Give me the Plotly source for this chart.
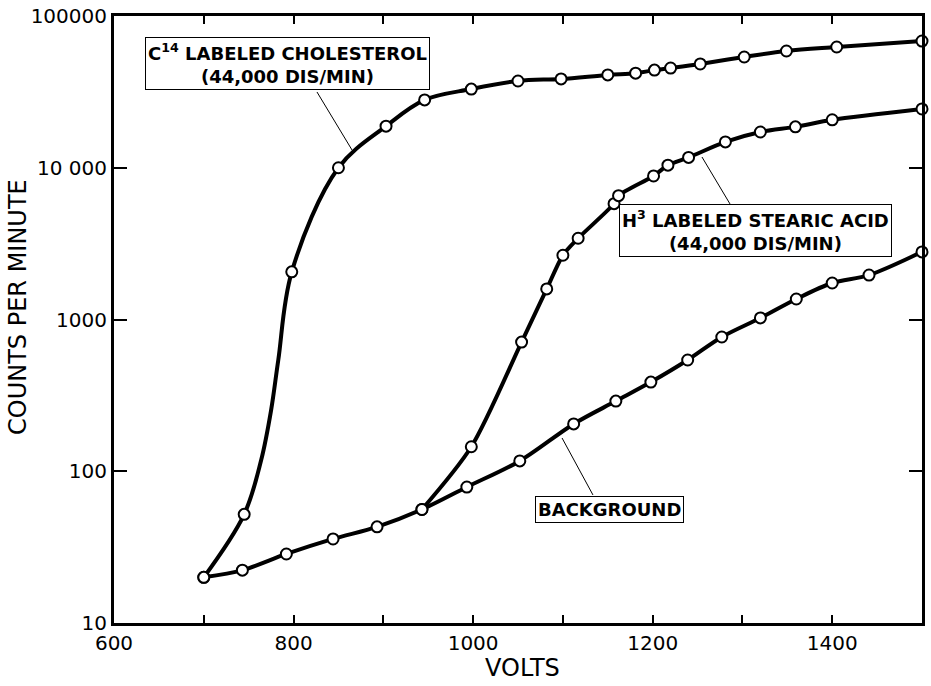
import plotly.graph_objects as go

# ---- data ----
# plotted points (open circles)
volts_chol = [700, 745, 798, 850, 903, 946, 998, 1050, 1098, 1150, 1181, 1202, 1220, 1253, 1302, 1349, 1405, 1500]
cpm_chol = [20, 52, 2060, 10000, 18800, 28000, 33000, 37300, 38500, 40900, 42000, 44000, 45400, 48300, 53700, 58800, 62500, 68400]

volts_stear = [943, 998, 1054, 1082, 1100, 1117, 1157, 1162, 1201, 1217, 1240, 1281, 1320, 1359, 1400, 1500]
cpm_stear = [56, 145, 710, 1590, 2650, 3430, 5800, 6550, 8830, 10400, 11700, 14800, 17200, 18600, 20700, 24400]

volts_bg = [700, 743, 792, 844, 893, 943, 993, 1052, 1112, 1159, 1198, 1239, 1277, 1320, 1360, 1400, 1441, 1500]
cpm_bg = [20, 22.3, 28.5, 35.8, 43, 56, 78.7, 117, 205, 290, 387, 541, 767, 1024, 1365, 1740, 1963, 2790]

# extra readings taken along the drawn cholesterol curve in its steep rise (no markers there)
volts_chol_rise = [764, 775, 783]
cpm_chol_rise = [119, 253, 541]

x_tickvals = [600, 700, 800, 900, 1000, 1100, 1200, 1300, 1400, 1500]
x_ticktext = ["600", "", "800", "", "1000", "", "1200", "", "1400", ""]
y_tickvals = [10, 100, 1000, 10000, 100000]
y_ticktext = ["10", "100", "1000", "10 000", "100000"]

FONT = "DejaVu Sans"

fig = go.Figure()

# cholesterol curve: plotted points plus the readings along the steep rise
chol_curve = sorted(zip(volts_chol + volts_chol_rise, cpm_chol + cpm_chol_rise))
curves = [
    ([v for v, _ in chol_curve], [c for _, c in chol_curve], 1.0),
    (volts_stear, cpm_stear, 0.8),
    (volts_bg, cpm_bg, 0.9),
]
for xs, ys, sm in curves:
    fig.add_trace(go.Scatter(
        x=xs, y=ys, mode="lines",
        line=dict(color="black", width=4, shape="spline", smoothing=sm),
        cliponaxis=False, showlegend=False, hoverinfo="skip",
    ))

for xs, ys in [(volts_chol, cpm_chol), (volts_stear, cpm_stear), (volts_bg, cpm_bg)]:
    fig.add_trace(go.Scatter(
        x=xs, y=ys, mode="markers",
        marker=dict(symbol="circle", size=11, color="white",
                    line=dict(color="black", width=2)),
        cliponaxis=False, showlegend=False, hoverinfo="x+y",
    ))

# leader lines (paper coords)
leaders = [
    (0.2512, 0.8748, 0.2946, 0.7792),
    (0.7624, 0.6903, 0.7277, 0.7677),
    (0.5928, 0.2109, 0.5545, 0.3048),
]
for x0, y0, x1, y1 in leaders:
    fig.add_shape(type="line", xref="paper", yref="paper",
                  x0=x0, y0=y0, x1=x1, y1=y1,
                  line=dict(color="black", width=1))

labels = [
    ("C<sup>14</sup> LABELED CHOLESTEROL<br>(44,000 DIS/MIN)", 0.2153, 0.9217),
    ("H<sup>3</sup> LABELED STEARIC ACID<br>(44,000 DIS/MIN)", 0.7939, 0.6474),
    ("BACKGROUND", 0.6132, 0.1878),
]
for txt, x, y in labels:
    fig.add_annotation(text="<b>" + txt + "</b>", xref="paper", yref="paper",
                       x=x, y=y, xanchor="center", yanchor="middle",
                       showarrow=False, align="center",
                       font=dict(family=FONT, size=18, color="black"),
                       bgcolor="white", bordercolor="black", borderwidth=1,
                       borderpad=2)

fig.add_annotation(text="COUNTS PER MINUTE", xref="paper", yref="paper",
                   x=-0.1188, y=0.5206, textangle=-90, showarrow=False,
                   xanchor="center", yanchor="middle",
                   font=dict(family=FONT, size=24, color="black"))
fig.add_annotation(text="VOLTS", xref="paper", yref="paper",
                   x=0.505, y=-0.0741, showarrow=False,
                   xanchor="center", yanchor="middle",
                   font=dict(family=FONT, size=24, color="black"))

fig.update_xaxes(range=[600, 1500], tickmode="array", tickvals=x_tickvals,
                 ticktext=x_ticktext, ticks="inside", ticklen=8, tickwidth=2,
                 tickcolor="black", showline=True, linewidth=3, linecolor="black",
                 mirror="ticks", showgrid=False, zeroline=False, automargin=False,
                 ticklabeloverflow="allow",
                 tickfont=dict(family=FONT, size=20, color="black"))
fig.update_yaxes(type="log", range=[1, 5], tickmode="array", tickvals=y_tickvals,
                 ticktext=y_ticktext, ticks="inside", ticklen=13, tickwidth=2,
                 tickcolor="black", showline=True, linewidth=3, linecolor="black",
                 mirror="ticks", showgrid=False, zeroline=False, automargin=False,
                 ticklabeloverflow="allow",
                 tickfont=dict(family=FONT, size=20, color="black"))

fig.update_layout(width=931, height=686,
                  margin=dict(l=114, r=9, t=16, b=63, autoexpand=False),
                  paper_bgcolor="white", plot_bgcolor="white",
                  font=dict(family=FONT, color="black"))

# remove the browser's default 8px body margin so the figure fills the window
fig.write_html("out.html",
               config={"displayModeBar": False},
               post_script="document.body.style.margin='0';document.body.style.overflow='hidden';")
